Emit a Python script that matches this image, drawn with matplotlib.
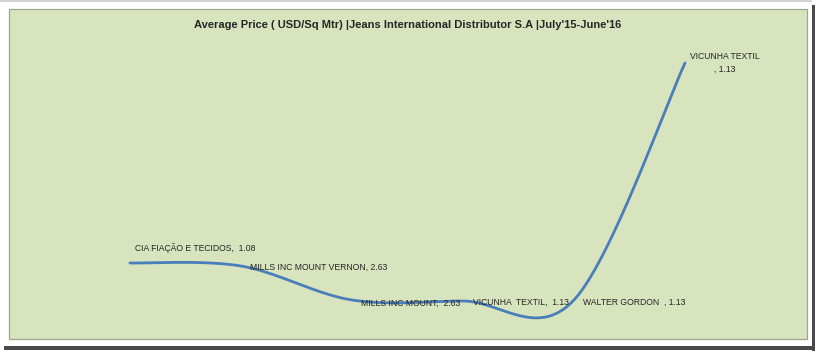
import numpy as np
import matplotlib
matplotlib.use("Agg")
import matplotlib.pyplot as plt
from matplotlib.patches import Rectangle

plt.rcParams["font.family"] = ["Liberation Sans", "DejaVu Sans"]

# ---- data ----
TITLE = "Average Price ( USD/Sq Mtr) |Jeans International Distributor S.A |July'15-June'16"
labels = [
    "CIA FIAÇÃO E TECIDOS,  1.08",
    "MILLS INC MOUNT VERNON, 2.63",
    "MILLS INC MOUNT,  2.63",
    "VICUNHA  TEXTIL,  1.13",
    "WALTER GORDON  , 1.13",
    "VICUNHA TEXTIL\n, 1.13",
]
line_values = [0.75, 0.72, 0.38, 0.37, 0.38, 2.75]

GREEN = "#D7E4BD"
BLUE = "#4A7EBB"
INK = "#262626"


def smooth(xs, ys, n=60):
    """Excel-style smoothed line (Catmull-Rom as cubic Bezier)."""
    P = np.column_stack([xs, ys]).astype(float)
    P = np.vstack([P[0], P, P[-1]])
    t = np.linspace(0, 1, n)[:, None]
    out = []
    for i in range(1, len(P) - 2):
        p0, p1, p2, p3 = P[i - 1], P[i], P[i + 1], P[i + 2]
        c1 = p1 + (p2 - p0) / 6
        c2 = p2 - (p3 - p1) / 6
        seg = (1 - t) ** 3 * p1 + 3 * (1 - t) ** 2 * t * c1 + 3 * (1 - t) * t ** 2 * c2 + t ** 3 * p2
        out.append(seg)
    seg = np.vstack(out)
    return seg[:, 0], seg[:, 1]


W, H = 820, 353
fig = plt.figure(figsize=(W / 100, H / 100), dpi=100)
fig.patch.set_facecolor("white")

# screenshot frame: shadow + green chart area
fig.patches.append(Rectangle((812 / W, 2 / H), 3 / W, 346 / H, transform=fig.transFigure,
                             facecolor="#4a4a4a", edgecolor="none"))
fig.patches.append(Rectangle((4 / W, 3 / H), 811 / W, 4 / H, transform=fig.transFigure,
                             facecolor="#4a4a4a", edgecolor="none"))
fig.patches.append(Rectangle((0, 351 / H), 812 / W, 2 / H, transform=fig.transFigure,
                             facecolor="#d4d4d4", edgecolor="none"))
fig.patches.append(Rectangle((9 / W, 14 / H), 798 / W, 330 / H, transform=fig.transFigure,
                             facecolor=GREEN, edgecolor="#a0a590", linewidth=0.9))

x = np.arange(len(line_values))
ax = fig.add_axes([19 / W, 15 / H, 777 / W, 300 / H])
ax.set_zorder(5)
ax.set_xlim(-1, 6)
ax.set_ylim(0, 3.0)
ax.patch.set_alpha(0)
ax.axis("off")

sx, sy = smooth(x, line_values)
ax.plot(sx, sy, color=BLUE, lw=2.0, solid_capstyle="round")

offsets = [(5, 10), (9, -1), (9, -3), (10, -1), (9, -2), (40, 0)]
for i, (lab, off) in enumerate(zip(labels, offsets)):
    ha = "center" if i == len(labels) - 1 else "left"
    va = "bottom" if i == 0 else "center"
    ax.annotate(lab, (x[i], line_values[i]), xytext=off, textcoords="offset pixels",
                ha=ha, va=va, fontsize=6.2, color=INK, linespacing=1.5)

fig.text(408 / W, 1 - 25 / H, TITLE, ha="center", va="center",
         fontsize=8.0, fontweight="bold", color=INK, zorder=6)

fig.savefig("out.png", dpi=100)
